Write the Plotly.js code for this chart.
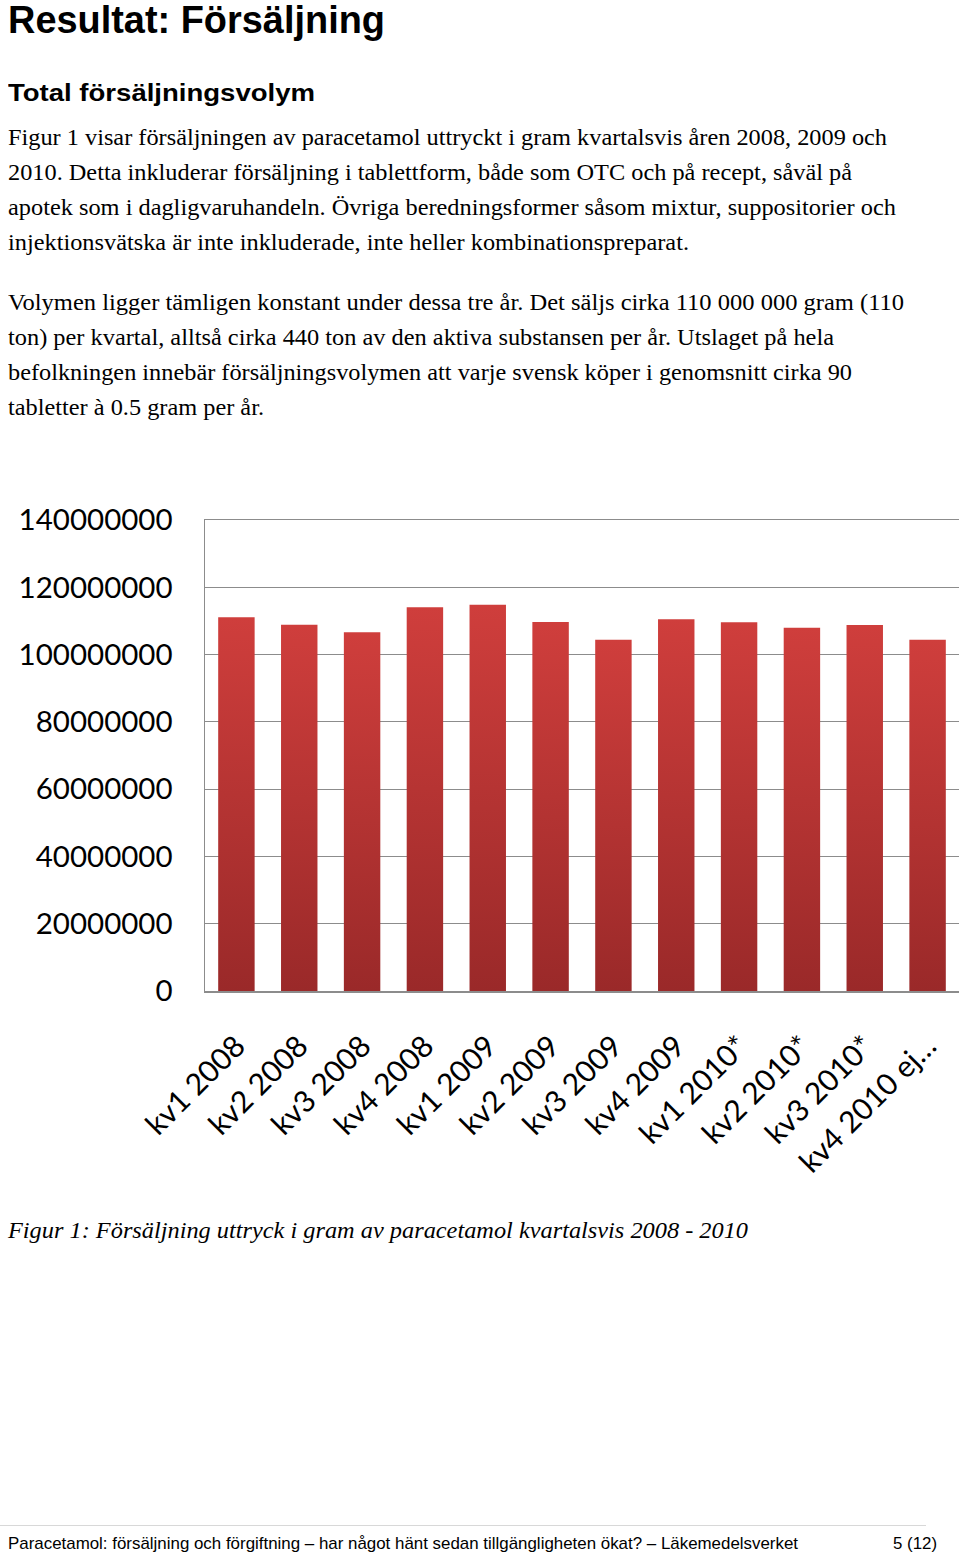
<!DOCTYPE html>
<html><head><meta charset="utf-8">
<script src="https://cdn.plot.ly/plotly-3.0.1.min.js"></script>
<style>
html,body{margin:0;padding:0;background:#fff;width:960px;height:1558px;overflow:hidden;}
.t{position:absolute;left:8px;white-space:nowrap;color:#000;transform-origin:0 50%;}
.h1{font-family:"Liberation Sans",Arial,sans-serif;font-weight:bold;font-size:39px;line-height:40px;}
.h2{font-family:"Liberation Sans",Arial,sans-serif;font-weight:bold;font-size:24px;line-height:30px;}
.p{font-family:"Liberation Serif","Times New Roman",serif;font-size:23.5px;line-height:35px;}
.cap{font-family:"Liberation Serif","Times New Roman",serif;font-style:italic;font-size:24px;line-height:30px;}
.ft{font-family:"Liberation Sans",Arial,sans-serif;font-size:17px;line-height:22px;}
#chart{position:absolute;left:0;top:480px;width:960px;height:720px;}
#rule{position:absolute;left:0;top:1525px;width:926px;height:1px;background:#d8d8d8;}
</style></head>
<body>
<div class="t h1" data-w="377" style="top:0px">Resultat: Försäljning</div>
<div class="t h2" data-w="307" style="top:78px">Total försäljningsvolym</div>
<div class="t p" data-w="879" style="top:120px">Figur 1 visar försäljningen av paracetamol uttryckt i gram kvartalsvis åren 2008, 2009 och</div>
<div class="t p" data-w="844" style="top:155px">2010. Detta inkluderar försäljning i tablettform, både som OTC och på recept, såväl på</div>
<div class="t p" data-w="888" style="top:190px">apotek som i dagligvaruhandeln. Övriga beredningsformer såsom mixtur, suppositorier och</div>
<div class="t p" data-w="681" style="top:225px">injektionsvätska är inte inkluderade, inte heller kombinationspreparat.</div>
<div class="t p" data-w="896" style="top:285px">Volymen ligger tämligen konstant under dessa tre år. Det säljs cirka 110 000 000 gram (110</div>
<div class="t p" data-w="826" style="top:320px">ton) per kvartal, alltså cirka 440 ton av den aktiva substansen per år. Utslaget på hela</div>
<div class="t p" data-w="844" style="top:355px">befolkningen innebär försäljningsvolymen att varje svensk köper i genomsnitt cirka 90</div>
<div class="t p" data-w="256" style="top:390px">tabletter à 0.5 gram per år.</div>
<div id="chart"></div>
<div class="t cap" data-w="740" style="top:1215px">Figur 1: Försäljning uttryck i gram av paracetamol kvartalsvis 2008 - 2010</div>
<div id="rule"></div>
<div class="t ft" data-w="790" style="top:1533px">Paracetamol: försäljning och förgiftning – har något hänt sedan tillgängligheten ökat? – Läkemedelsverket</div>
<div class="t ft" data-w="44" style="top:1533px;left:893px">5 (12)</div>
<script>
// Data
const quarters = ["kv1 2008","kv2 2008","kv3 2008","kv4 2008","kv1 2009","kv2 2009","kv3 2009","kv4 2009","kv1 2010*","kv2 2010*","kv3 2010*","kv4 2010 ej…"];
const grams = [111100000,108900000,106600000,114100000,114800000,109700000,104400000,110500000,109600000,108000000,108800000,104400000];
const yTicks = [0,20000000,40000000,60000000,80000000,100000000,120000000,140000000];

// fit text lines to measured widths
document.querySelectorAll('.t[data-w]').forEach(el=>{
  const w = el.getBoundingClientRect().width;
  const target = parseFloat(el.dataset.w);
  if (w>0) el.style.transform = 'scaleX(' + (target/w).toFixed(4) + ')';
});

const grid = '#8c8c8c';
Plotly.newPlot('chart', [{
  type:'bar', x: quarters, y: grams,
  marker:{color:'#bb3434', line:{width:0}},
  hoverinfo:'none'
}], {
  width:960, height:720,
  margin:{l:205, r:1, t:40, b:209},
  paper_bgcolor:'rgba(0,0,0,0)', plot_bgcolor:'#fff',
  showlegend:false,
  bargap:0.42,
  font:{family:'Lato, "Open Sans", sans-serif', size:30, color:'#000'},
  xaxis:{type:'category', tickangle:-45, tickfont:{family:'Lato, sans-serif', size:30, color:'#000'},
    ticks:'outside', ticklen:24, tickcolor:'rgba(0,0,0,0)', showline:true, mirror:true, linecolor:grid, linewidth:1.5,
    showgrid:false, zeroline:false, fixedrange:true},
  yaxis:{range:[0,140000000], tickmode:'array', tickvals:yTicks, ticktext:yTicks.map(String),
    tickfont:{family:'Lato, sans-serif', size:29.5, color:'#000'},
    ticks:'outside', ticklen:25, tickcolor:'rgba(0,0,0,0)', showline:true, linecolor:grid, linewidth:1.5,
    showgrid:true, gridcolor:grid, gridwidth:1.2, zeroline:false, fixedrange:true}
}, {displayModeBar:false, staticPlot:true}).then(gd=>{
  // vertical shading of bars (lighter top, darker bottom)
  const svg = gd.querySelector('svg.main-svg');
  const NS = 'http://www.w3.org/2000/svg';
  let defs = svg.querySelector('defs');
  if (!defs) { defs = document.createElementNS(NS,'defs'); svg.insertBefore(defs, svg.firstChild); }
  const lg = document.createElementNS(NS,'linearGradient');
  lg.setAttribute('id','barShade'); lg.setAttribute('x1','0'); lg.setAttribute('y1','0');
  lg.setAttribute('x2','0'); lg.setAttribute('y2','1');
  [['0%','#cf3e3c'],['100%','#9a2929']].forEach(([o,c])=>{
    const s = document.createElementNS(NS,'stop'); s.setAttribute('offset',o); s.setAttribute('stop-color',c); lg.appendChild(s);
  });
  defs.appendChild(lg);
  gd.querySelectorAll('.bars .point path').forEach(p=>{ p.style.fill = 'url(#barShade)'; });
});
</script>
</body></html>
